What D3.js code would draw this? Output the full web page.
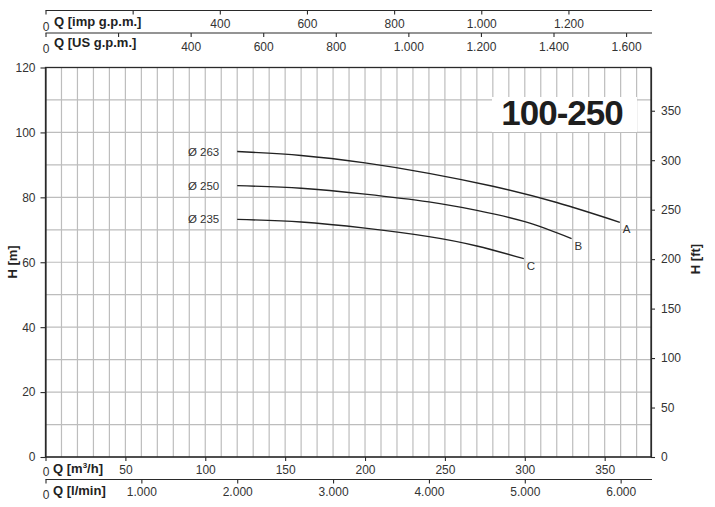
<!DOCTYPE html>
<html><head><meta charset="utf-8">
<script src="https://cdn.jsdelivr.net/npm/d3@7"></script>
<style>
html,body{margin:0;padding:0;background:#fff;}
svg text{font-family:"Liberation Sans",Arial,Helvetica,sans-serif;fill:#333;}
</style></head>
<body><svg id="c" width="715" height="507"></svg>
<script>
// ---- data ----
const curveNames = ["A","B","C"];
const diameters = ["Ø 263","Ø 250","Ø 235"];
const qA = [120,160,200,240,280,320,359.5];
const hA = [94.1,92.9,90.6,87.4,83.4,78.4,72.3];
const qB = [120,160,200,240,270,300,329.3];
const hB = [83.6,82.8,81.0,78.6,76.0,72.5,67.3];
const qC = [120,160,200,240,270,299.4];
const hC = [73.2,72.4,70.5,67.9,65.0,61.1];
const hTicks = [0,20,40,60,80,100,120];
const ftTicks = [0,50,100,150,200,250,300,350];
const m3hTicks = [0,50,100,150,200,250,300,350];
const lminTicks = [0,1000,2000,3000,4000,5000,6000];
const usTicks = [0,200,400,600,800,1000,1200,1400,1600];
const impTicks = [0,200,400,600,800,1000,1200];
const title = "100-250";

const Q_MAX = 379, H_MAX = 120;
const M3H_TO_LMIN = 16.6667, M3H_TO_US = 4.40287, M3H_TO_IMP = 3.66615, M_TO_FT = 3.28084;

const L = 45.5, R = 651, T = 67.5, B = 457;
const svg = d3.select("#c");
const x = d3.scaleLinear().domain([0, Q_MAX]).range([L, R]);
const y = d3.scaleLinear().domain([0, H_MAX]).range([B, T]);
const yFt = d3.scaleLinear().domain([0, H_MAX*M_TO_FT]).range([B, T]);
const xL = d3.scaleLinear().domain([0, Q_MAX*M3H_TO_LMIN]).range([L, R]);
const xUS = d3.scaleLinear().domain([0, Q_MAX*M3H_TO_US]).range([L, R]);
const xImp = d3.scaleLinear().domain([0, Q_MAX*M3H_TO_IMP]).range([L, R]);

const fmt = d => d3.format(",")(d).replace(/,/g, ".");
const grid = "#bdbdbd", dark = "#2a2a2a";

// grid
const gG = svg.append("g");
gG.selectAll("line.v").data(d3.range(10, Q_MAX, 10)).join("line")
  .attr("x1", d => x(d)).attr("x2", d => x(d)).attr("y1", T).attr("y2", B)
  .attr("stroke", grid).attr("stroke-width", 1.2);
gG.selectAll("line.h").data(d3.range(10, H_MAX, 10)).join("line")
  .attr("x1", L).attr("x2", R).attr("y1", d => y(d)).attr("y2", d => y(d))
  .attr("stroke", grid).attr("stroke-width", 1.2);

// title box
svg.append("rect").attr("x", 492).attr("y", 97).attr("width", 145).attr("height", 35).attr("fill", "#fff");
svg.append("text").attr("x", 562).attr("y", 125).attr("text-anchor", "middle")
  .attr("font-size", 35).attr("font-weight", "bold").style("fill", "#1e1e1e").attr("letter-spacing", -1).text(title);

// plot frame
svg.append("rect").attr("x", L).attr("y", T).attr("width", R-L).attr("height", B-T)
  .attr("fill", "none").attr("stroke", dark).attr("stroke-width", 1.3);

function styleAxis(g){
  g.select(".domain").attr("stroke", dark).attr("stroke-width", 1.2);
  g.selectAll(".tick line").attr("stroke", dark).attr("stroke-width", 1.1);
  g.selectAll(".tick text").attr("font-size", 12).style("fill", "#333").attr("font-family", null);
}

// left H axis
const gl = svg.append("g").attr("transform", `translate(${L},0)`)
  .call(d3.axisLeft(y).tickValues(hTicks).tickSize(5).tickSizeOuter(0).tickPadding(5));
styleAxis(gl);
// right ft axis
const gr = svg.append("g").attr("transform", `translate(${R},0)`)
  .call(d3.axisRight(yFt).tickValues(ftTicks).tickSize(4).tickSizeOuter(0).tickPadding(6));
styleAxis(gr);
// bottom m3/h
const gb = svg.append("g").attr("transform", `translate(0,${B})`)
  .call(d3.axisBottom(x).tickValues(m3hTicks).tickSize(4).tickSizeOuter(0).tickPadding(4).tickFormat(fmt));
styleAxis(gb);
// bottom l/min
const gb2 = svg.append("g").attr("transform", `translate(0,479.5)`)
  .call(d3.axisBottom(xL).tickValues(lminTicks).tickSize(4).tickSizeOuter(0).tickPadding(4).tickFormat(fmt));
styleAxis(gb2);
// top imp
const gt1 = svg.append("g").attr("transform", `translate(0,10.5)`)
  .call(d3.axisBottom(xImp).tickValues(impTicks).tickSize(4).tickSizeOuter(0).tickPadding(5)
    .tickFormat(d => (d === 200 ? "" : fmt(d))));
styleAxis(gt1);
// top US
const gt2 = svg.append("g").attr("transform", `translate(0,33)`)
  .call(d3.axisBottom(xUS).tickValues(usTicks).tickSize(4).tickSizeOuter(0).tickPadding(5)
    .tickFormat(d => (d === 200 ? "" : fmt(d))));
styleAxis(gt2);
[gb, gb2, gt1, gt2].forEach(g => g.select(".domain").attr("d", `M${L},0H${R+1}`));
[gb, gb2, gt1, gt2].forEach(g => g.selectAll(".tick").filter(d => d === 0).select("text").attr("dy", "0.95em"));

// axis names
const nm = (t, xx, yy) => svg.append("text").attr("x", xx).attr("y", yy).attr("font-size", 13)
  .attr("font-weight", "bold").style("fill", "#222").text(t);
nm("Q [imp g.p.m.]", 54, 26);
nm("Q [US g.p.m.]", 54, 47);
const qm = svg.append("text").attr("x", 53).attr("y", 473).attr("font-size", 13).attr("font-weight", "bold").style("fill", "#222");
qm.append("tspan").text("Q [m");
qm.append("tspan").attr("dy", -5).attr("font-size", 8).text("3");
qm.append("tspan").attr("dy", 5).text("/h]");
nm("Q [l/min]", 53, 495);
svg.append("text").attr("transform", "translate(17,262) rotate(-90)").attr("text-anchor", "middle")
  .attr("font-size", 13).attr("font-weight", "bold").style("fill", "#222").text("H [m]");
svg.append("text").attr("transform", "translate(700,259) rotate(-90)").attr("text-anchor", "middle")
  .attr("font-size", 13).attr("font-weight", "bold").style("fill", "#222").text("H [ft]");

// curves
const series = [[qA,hA],[qB,hB],[qC,hC]];
const line = d3.line().x(d => x(d[0])).y(d => y(d[1])).curve(d3.curveNatural);
series.forEach(([qs, hs], i) => {
  const pts = qs.map((q, j) => [q, hs[j]]);
  svg.append("path").datum(pts).attr("d", line).attr("fill", "none")
    .attr("stroke", "#222").attr("stroke-width", 1.4);
  const s = pts[0], e = pts[pts.length-1];
  svg.append("text").attr("x", x(s[0]) - 18).attr("y", y(s[1])).attr("dy", "0.35em")
    .attr("text-anchor", "end").attr("font-size", 11.5).text(diameters[i]);
  svg.append("text").attr("x", x(e[0]) + 3).attr("y", y(e[1]) + 7).attr("dy", "0.35em")
    .attr("font-size", 11.5).text(curveNames[i]);
});
</script></body></html>
